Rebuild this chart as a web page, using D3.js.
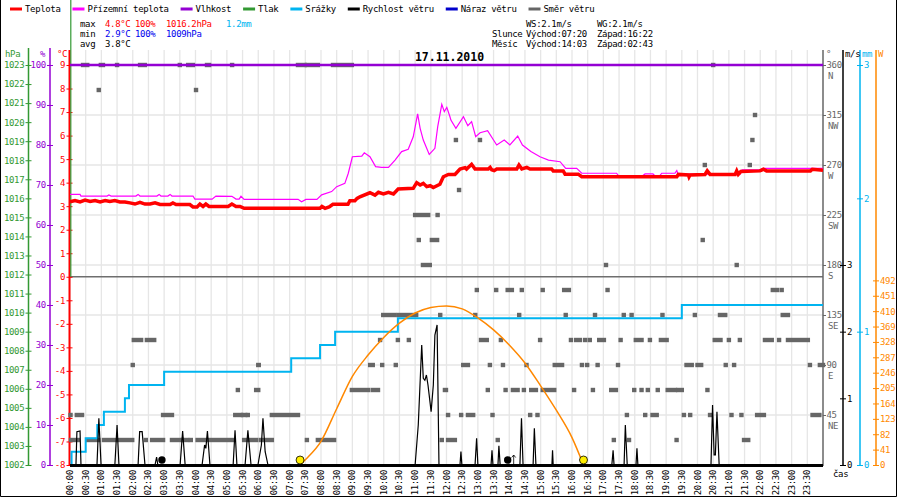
<!DOCTYPE html>
<html>
<head>
<meta charset="utf-8">
<script src="https://d3js.org/d3.v7.min.js"></script>
<title>17.11.2010</title>
<style>
  body { margin: 0; background: #fff; }
  svg text { font-family: 'DejaVu Sans Mono', monospace; font-size: 9px; letter-spacing: -0.35px; }
</style>
</head>
<body>
<div id="chart"></div>
<script>
// legend
let legendNames = ["Teplota", "Přízemní teplota", "Vlhkost", "Tlak", "Srážky", "Rychlost větru", "Náraz větru", "Směr větru"];
let legendColors = ["#ff0000", "#ff00ff", "#9400d3", "#339933", "#00b4f0", "#000000", "#0000cc", "#666666"];

// stats block
let statMax = ["4.8°C", "100%", "1016.2hPa", "1.2mm"];
let statMin = ["2.9°C", "100%", "1009hPa"];
let statAvg = ["3.8°C"];
let sunMoon = [["", "WS:2.1m/s", "WG:2.1m/s"], ["Slunce", "Východ:07:20", "Západ:16:22"], ["Měsíc", "Východ:14:03", "Západ:02:43"]];

// axis ticks
let hpaTicks = d3.range(1002, 1024);
let humTicks = d3.range(0, 101, 10);
let tempTicks = d3.range(-8, 10);
let dirTicks = [45, 90, 135, 180, 225, 270, 315, 360];
let dirNames = ["NE", "E", "SE", "S", "SW", "W", "NW", "N"];
let wsTicks = [0, 1, 2, 3];
let mmTicks = [0, 1, 2, 3];
let wTicks = d3.range(0, 493, 41);
let halfHours = d3.range(0, 24, 0.5);

// Teplota [hour, °C]
let teplota = [[0,3.19],[0.16,3.24],[0.32,3.18],[0.48,3.26],[0.64,3.2],[0.8,3.24],[0.96,3.18],[1.12,3.24],[1.27,3.2],[1.43,3.24],[1.59,3.18],[1.75,3.18],[1.91,3.14],[2.07,3.09],[2.23,3.16],[2.39,3.09],[2.55,3.09],[2.71,3.14],[2.87,3.07],[3.19,3.07],[3.28,3.14],[3.38,3.07],[3.82,3.07],[3.92,2.97],[4.05,2.97],[4.14,3.09],[4.24,2.99],[4.33,3.09],[4.43,2.99],[5.04,2.99],[5.16,3.09],[5.29,2.99],[5.42,2.99],[5.55,2.91],[7.97,2.91],[8.03,2.99],[8.13,2.91],[8.26,2.97],[8.38,3.08],[8.86,3.08],[8.92,3.23],[9.08,3.23],[9.15,3.33],[9.24,3.4],[9.56,3.57],[9.72,3.47],[9.83,3.59],[9.99,3.52],[10.15,3.59],[10.31,3.52],[10.46,3.73],[10.94,3.76],[11.05,4.0],[11.16,3.9],[11.26,3.97],[11.37,3.83],[11.48,3.87],[11.58,3.79],[11.79,3.93],[11.9,4.25],[12.06,4.35],[12.27,4.35],[12.43,4.58],[12.59,4.64],[12.64,4.58],[12.8,4.78],[12.91,4.58],[13.33,4.58],[13.39,4.65],[13.44,4.55],[13.52,4.51],[13.6,4.58],[14.24,4.58],[14.31,4.75],[14.4,4.58],[14.56,4.65],[14.66,4.58],[15.35,4.58],[15.4,4.5],[15.72,4.5],[15.78,4.36],[16.2,4.36],[16.31,4.25],[19.34,4.25],[19.39,4.35],[19.71,4.33],[19.73,4.25],[19.76,4.33],[20.24,4.35],[20.31,4.5],[20.4,4.35],[21.2,4.35],[21.25,4.5],[21.3,4.35],[21.38,4.47],[21.99,4.5],[22.1,4.57],[22.2,4.5],[23.6,4.5],[23.66,4.57],[24,4.53]];

// Přízemní teplota [hour, °C]
let prizemni = [[0,3.5],[0.32,3.5],[0.35,3.43],[1.18,3.43],[1.24,3.48],[1.31,3.43],[2.1,3.43],[2.17,3.5],[2.23,3.43],[2.77,3.43],[2.84,3.5],[2.9,3.43],[3.12,3.43],[3.19,3.5],[3.25,3.43],[3.92,3.43],[3.98,3.3],[4.53,3.3],[4.65,3.43],[5.16,3.42],[5.29,3.3],[5.39,3.3],[5.45,3.42],[5.55,3.29],[7.27,3.29],[7.38,3.19],[7.52,3.29],[7.87,3.29],[8.02,3.48],[8.34,3.62],[8.5,3.83],[8.76,3.97],[8.87,4.4],[9.0,5.1],[9.3,5.13],[9.38,5.27],[9.56,5.1],[9.74,4.68],[9.93,4.65],[10.15,4.65],[10.36,4.96],[10.57,5.32],[10.78,5.42],[10.94,5.95],[11.08,6.92],[11.16,6.31],[11.26,5.81],[11.45,5.2],[11.63,5.46],[11.72,6.38],[11.85,7.33],[11.93,7.02],[12.01,7.2],[12.11,6.8],[12.14,6.66],[12.3,6.31],[12.54,6.8],[12.68,6.42],[12.8,6.59],[12.93,5.95],[13.07,6.12],[13.31,6.21],[13.6,5.6],[13.84,5.81],[14.02,5.6],[14.27,5.98],[14.42,5.6],[14.69,5.32],[14.98,5.1],[15.25,4.96],[15.62,4.89],[15.8,4.61],[16.15,4.61],[16.31,4.4],[17.42,4.4],[17.48,4.3],[18.26,4.3],[18.33,4.37],[18.58,4.37],[18.64,4.3],[18.8,4.3],[18.86,4.4],[19.28,4.4],[19.34,4.51],[19.38,4.36],[21.36,4.36],[21.42,4.54],[21.99,4.54],[22.09,4.61],[24,4.61]];

// Vlhkost [hour, %]
let vlhkost = [[0,100],[24,100]];

// Srážky cumulative steps
let rainH = [0, 0.05, 0.5, 0.87, 1.08, 1.75, 1.88, 3.0, 7.05, 7.97, 8.45, 10.45, 19.5, 24];
let rainMm = [0, 0.1, 0.2, 0.3, 0.4, 0.5, 0.6, 0.7, 0.8, 0.9, 1.0, 1.1, 1.2, 1.2];

// Rychlost větru [hour, m/s]
let wind = [[0,0],[0.19,0],[0.22,0.5],[0.32,0.51],[0.35,0],[0.86,0],[0.92,0.7],[0.99,0],[1.43,0],[1.5,0.6],[1.56,0],[2.17,0],[2.22,0.5],[2.3,0.5],[2.39,0],[2.71,0],[2.76,0.12],[2.8,0],[3.51,0],[3.59,0.51],[3.67,0],[4.21,0],[4.29,0.3],[4.33,0.25],[4.38,0.51],[4.46,0],[5.2,0],[5.26,0.52],[5.32,0],[5.58,0],[5.67,0.52],[5.77,0],[5.99,0],[6.1,0.3],[6.15,0.7],[6.22,0.2],[6.31,0],[11.0,0],[11.1,0.6],[11.21,1.8],[11.26,1.3],[11.31,1.27],[11.36,1.35],[11.41,1.2],[11.51,0.8],[11.58,1.2],[11.63,1.95],[11.7,2.1],[11.76,0],[12.43,0],[12.46,0.2],[12.49,0],[12.91,0],[12.96,0.4],[13.0,0],[13.42,0],[13.45,0.22],[13.48,0],[13.64,0],[13.67,0.29],[13.71,0],[14.34,0],[14.39,0.7],[14.44,0],[14.76,0],[14.8,0.55],[14.85,0],[15.36,0],[15.38,0.22],[15.4,0],[17.27,0],[17.31,0.22],[17.34,0],[17.66,0],[17.7,0.6],[17.76,0],[18.04,0],[18.07,0.25],[18.1,0],[20.43,0],[20.48,0.9],[20.53,0.15],[20.57,0.15],[20.62,0.8],[20.69,0],[24,0]];

// Směr větru runs [start min, end min, degrees]
let dirRuns = [
  [25,33,360],[59,63,360],[90,90,360],[134,143,360],[210,210,360],[226,235,360],[262,266,360],[310,310,360],[436,449,360],[453,474,360],[503,539,360],[1230,1230,360],
  [55,55,337.5],[241,241,337.5],
  [1310,1310,315],
  [738,738,292.5],[784,784,292.5],[1305,1305,292.5],
  [1214,1214,270],[1300,1300,270],
  [744,744,247.5],
  [660,685,225],[703,703,225],
  [667,667,202.5],[692,702,202.5],[1210,1210,202.5],
  [675,688,180],[1025,1025,180],[1275,1275,180],
  [778,778,157.5],[815,815,157.5],[837,845,157.5],[864,864,157.5],[904,904,157.5],[945,954,157.5],[1028,1028,157.5],[1344,1352,157.5],[1361,1361,157.5],
  [599,621,135],[629,662,135],[708,708,135],[775,775,135],[859,859,135],[948,948,135],[1004,1004,135],[1059,1059,135],[1074,1074,135],[1133,1133,135],[1195,1195,135],[1243,1253,135],[1363,1373,135],
  [122,136,112.5],[147,161,112.5],[593,593,112.5],[627,627,112.5],[648,648,112.5],[786,797,112.5],[824,824,112.5],[899,899,112.5],[958,958,112.5],[968,975,112.5],[985,985,112.5],[994,994,112.5],[1012,1021,112.5],[1053,1053,112.5],[1082,1093,112.5],[1109,1109,112.5],[1130,1141,112.5],[1233,1244,112.5],[1260,1260,112.5],[1281,1281,112.5],[1329,1342,112.5],[1356,1356,112.5],[1373,1411,112.5],
  [120,120,90],[360,361,90],[574,579,90],[597,597,90],[623,623,90],[752,761,90],[803,803,90],[828,828,90],[873,873,90],[927,941,90],[979,979,90],[989,989,90],[1009,1009,90],[1048,1048,90],[1179,1189,90],[1200,1207,90],[1254,1254,90],[1270,1270,90],[1415,1415,90],[1434,1440,90],
  [321,321,67.5],[356,360,67.5],[539,570,67.5],[579,589,67.5],[717,719,67.5],[799,799,67.5],[833,833,67.5],[847,856,67.5],[868,868,67.5],[882,891,67.5],[904,926,67.5],[964,964,67.5],[1000,1000,67.5],[1035,1044,67.5],[1079,1079,67.5],[1093,1093,67.5],[1105,1105,67.5],[1124,1124,67.5],[1143,1157,67.5],[1163,1170,67.5],[1219,1219,67.5],
  [1,1,45],[13,23,45],[178,195,45],[316,327,45],[331,335,45],[340,340,45],[386,436,45],[723,723,45],[748,748,45],[761,771,45],[808,808,45],[880,880,45],[894,894,45],[1065,1065,45],[1100,1100,45],[1114,1122,45],[1174,1174,45],[1186,1186,45],[1224,1224,45],[1265,1265,45],[1284,1284,45],[1314,1327,45],[1420,1433,45],
  [2,15,22.5],[34,54,22.5],[65,119,22.5],[145,145,22.5],[157,178,22.5],[195,214,22.5],[216,224,22.5],[231,231,22.5],[244,258,22.5],[266,310,22.5],[333,356,22.5],[365,386,22.5],[453,453,22.5],[474,505,22.5],[711,711,22.5],[723,736,22.5],[818,818,22.5],[1040,1040,22.5],[1069,1069,22.5],[1160,1160,22.5],[1289,1297,22.5]
];

// theoretical sun radiation [hour] / [W]
let sunH = [7.333, 7.5, 8, 8.5, 9, 9.5, 10, 10.5, 11, 11.5, 12, 12.5, 13, 13.5, 14, 14.5, 15, 15.5, 16, 16.367];
let sunW = [0, 14, 63, 150, 236, 293, 340, 378, 405, 420, 424, 416, 392, 360, 320, 272, 211, 146, 73, 0];
let sunMarks = [7.333, 16.367];
let moonMarks = [2.93, 13.95];

let svg = d3.select("#chart").append("svg")
  .attr("width", 900).attr("height", 500);

// scales
let x = d3.scaleLinear().domain([0, 24]).range([70, 823]);
let yT = d3.scaleLinear().domain([-8, 9]).range([465, 65]);
let yHum = d3.scaleLinear().domain([0, 100]).range([465, 65]);
let yP = d3.scaleLinear().domain([1002, 1023]).range([465, 65]);
let yDir = d3.scaleLinear().domain([0, 360]).range([465, 65]);
let yWs = d3.scaleLinear().domain([0, 3]).range([465, 265]);
let yMm = d3.scaleLinear().domain([0, 3]).range([465, 65]);
let yW = d3.scaleLinear().domain([0, 1066]).range([465, 65]);

// frame
svg.append("path").attr("d", "M0.5,0V496.5H896.5V0").attr("fill", "none").attr("stroke", "#000");

// legend row
let lx = 10;
legendNames.forEach(function (name, i) {
  svg.append("line").attr("x1", lx).attr("x2", lx + 12).attr("y1", 9).attr("y2", 9)
    .attr("stroke", legendColors[i]).attr("stroke-width", 3);
  let t = svg.append("text").attr("x", lx + 15).attr("y", 12).text(name);
  lx = lx + 15 + t.node().getComputedTextLength() + 12;
});

// stats
let statCols = [105, 135, 166, 226];
[["max", statMax, ["#ff0000", "#ff0000", "#ff0000", "#00b4f0"]],
 ["min", statMin, ["#0000ee", "#0000ee", "#0000ee"]],
 ["avg", statAvg, ["#000"]]].forEach(function (row, r) {
  let yy = 27 + r * 10;
  svg.append("text").attr("x", 80).attr("y", yy).text(row[0]);
  row[1].forEach(function (v, j) {
    svg.append("text").attr("x", statCols[j]).attr("y", yy).attr("fill", row[2][j]).text(v);
  });
});
let smCols = [492, 526, 597];
sunMoon.forEach(function (row, r) {
  row.forEach(function (v, j) {
    svg.append("text").attr("x", smCols[j]).attr("y", 27 + r * 10).text(v);
  });
});

// grid
svg.append("g").selectAll("line").data(halfHours).join("line")
  .attr("x1", d => x(d)).attr("x2", d => x(d)).attr("y1", 50).attr("y2", 465)
  .attr("stroke", "#e6e6e6").attr("stroke-width", 1.3);
svg.append("g").selectAll("line").data(dirTicks.slice(0, 7)).join("line")
  .attr("x1", 70).attr("x2", 823).attr("y1", d => yDir(d)).attr("y2", d => yDir(d))
  .attr("stroke", "#e6e6e6").attr("stroke-width", 1.3);
svg.append("line").attr("x1", 70).attr("x2", 823).attr("y1", yT(0)).attr("y2", yT(0))
  .attr("stroke", "#6e6e6e").attr("stroke-width", 1.5);

// title (over the grid)
svg.append("text").attr("x", 449.5).attr("y", 61).attr("text-anchor", "middle")
  .style("font-size", "11.5px").style("font-weight", "bold").style("letter-spacing", "0px")
  .text("17.11.2010");

// vertical axes
function vAxis(scale, xPos, side, vals, color, fmt, pad, top) {
  let ax = (side === "left" ? d3.axisLeft(scale) : d3.axisRight(scale))
    .tickValues(vals).tickFormat(fmt).tickSize(3).tickPadding(pad);
  let g = svg.append("g").attr("transform", "translate(" + xPos + ",0)").call(ax);
  g.select(".domain").remove();
  g.selectAll(".tick line").attr("x1", side === "left" ? 3 : 0).attr("x2", side === "left" ? -3 : 3).attr("stroke", color);
  g.selectAll(".tick text").attr("fill", color);
  g.append("line").attr("x1", 0).attr("x2", 0).attr("y1", top).attr("y2", 466)
    .attr("stroke", color).attr("stroke-width", 1.5);
  return g;
}
vAxis(yP, 28.5, "left", hpaTicks, "#339933", d => d, 1.3, 48);
vAxis(yHum, 50, "left", humTicks, "#9400d3", d => d, 1.2, 48);
vAxis(yT, 69.5, "left", tempTicks, "#ff0000", d => d, 1.5, 50).select("line:last-child").attr("stroke-width", 2);
svg.append("line").attr("x1", 70.8).attr("x2", 70.8).attr("y1", 0).attr("y2", yT(0))
  .attr("stroke", "#339933").attr("stroke-width", 1.2);

let gDir = vAxis(yDir, 823, "right", dirTicks, "#666666", d => d, 0.5, 50);
gDir.selectAll(".tick").append("text").attr("x", 5).attr("y", 13).attr("fill", "#666666")
  .text((d, i) => dirNames[i]);
vAxis(yWs, 843, "right", wsTicks, "#000", d => d, 1, 50)
  .selectAll(".tick line").attr("x1", -3);
vAxis(yMm, 860, "right", mmTicks, "#00b4f0", d => d, 1, 50)
  .selectAll(".tick line").attr("x1", -3);
vAxis(yW, 876, "right", wTicks, "#ff8800", d => d, 1, 50)
  .selectAll(".tick line").attr("x1", -3);

// axis unit labels
[["hPa", 5, "#339933"], ["%", 40, "#9400d3"], ["°C", 57, "#ff0000"], ["°", 826, "#666666"],
 ["m/s", 845, "#000"], ["mm", 862, "#00b4f0"], ["W", 878, "#ff8800"]].forEach(function (u) {
  svg.append("text").attr("x", u[1]).attr("y", 57).attr("fill", u[2]).text(u[0]);
});

// time labels
svg.append("g").selectAll("text").data(halfHours).join("text")
  .attr("transform", d => "translate(" + (x(d) + 3) + ",470) rotate(-90)")
  .attr("text-anchor", "end")
  .text(d => d3.format("02")(Math.floor(d)) + ":" + (d % 1 ? "30" : "00"));
svg.append("text").attr("x", 833).attr("y", 477).text("čas");

// wind direction
svg.append("g").selectAll("rect").data(dirRuns).join("rect")
  .attr("x", d => x(d[0] / 60) - 2.2)
  .attr("width", d => x(d[1] / 60) - x(d[0] / 60) + 4.4)
  .attr("y", d => yDir(d[2]) - 2.2).attr("height", 4.4)
  .attr("fill", "#666666");

// humidity
svg.append("path").datum(vlhkost)
  .attr("d", d3.line().x(d => x(d[0])).y(d => yHum(d[1])))
  .attr("fill", "none").attr("stroke", "#9400d3").attr("stroke-width", 2.5);

// ground temperature
svg.append("path").datum(prizemni)
  .attr("d", d3.line().x(d => x(d[0])).y(d => yT(d[1])))
  .attr("fill", "none").attr("stroke", "#ff00ff").attr("stroke-width", 1.2);

// temperature
svg.append("path").datum(teplota)
  .attr("d", d3.line().x(d => x(d[0])).y(d => yT(d[1])))
  .attr("fill", "none").attr("stroke", "#ff0000").attr("stroke-width", 3.5);

// rain
svg.append("path").datum(d3.zip(rainH, rainMm))
  .attr("d", d3.line().curve(d3.curveStepAfter).x(d => x(d[0])).y(d => yMm(d[1])))
  .attr("fill", "none").attr("stroke", "#00b4f0").attr("stroke-width", 2);

// sun radiation
svg.append("path").datum(d3.zip(sunH, sunW))
  .attr("d", d3.line().curve(d3.curveMonotoneX).x(d => x(d[0])).y(d => yW(d[1])))
  .attr("fill", "none").attr("stroke", "#ff8800").attr("stroke-width", 1.5);

// bottom base line
svg.append("line").attr("x1", 70).attr("x2", 823).attr("y1", 465.5).attr("y2", 465.5)
  .attr("stroke", "#000").attr("stroke-width", 3);

// wind speed
svg.append("path").datum(wind)
  .attr("d", d3.line().x(d => x(d[0])).y(d => yWs(d[1])))
  .attr("fill", "none").attr("stroke", "#000").attr("stroke-width", 1.2);

// sun / moon markers
svg.append("g").selectAll("circle").data(sunMarks).join("circle")
  .attr("cx", d => x(d)).attr("cy", 460).attr("r", 4)
  .attr("fill", "#ffee00").attr("stroke", "#000").attr("stroke-width", 0.8);
svg.append("g").selectAll("circle").data(moonMarks).join("circle")
  .attr("cx", d => x(d)).attr("cy", 460).attr("r", 3.7).attr("fill", "#000");
svg.append("path")
  .attr("d", "M" + (x(moonMarks[1]) + 6) + ",465V455M" + (x(moonMarks[1]) + 4) + ",457.5L" + (x(moonMarks[1]) + 6) + ",455L" + (x(moonMarks[1]) + 8) + ",457.5")
  .attr("fill", "none").attr("stroke", "#000").attr("stroke-width", 0.8);
</script>
</body>
</html>
